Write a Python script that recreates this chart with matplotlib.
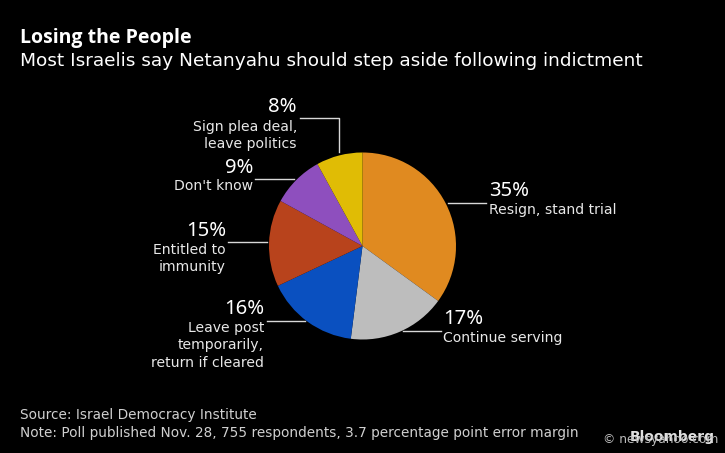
import matplotlib
matplotlib.use("Agg")
import matplotlib.pyplot as plt

# poll values
labels = ["Resign, stand trial", "Continue serving", "Leave post\ntemporarily,\nreturn if cleared",
          "Entitled to\nimmunity", "Don't know", "Sign plea deal,\nleave politics"]
values = [35, 17, 16, 15, 9, 8]
colors = ["#E08A20", "#BDBDBD", "#0A50C0", "#B8431C", "#8E4FBE", "#E0BC05"]

title = "Losing the People"
subtitle = "Most Israelis say Netanyahu should step aside following indictment"
source = "Source: Israel Democracy Institute"
note = "Note: Poll published Nov. 28, 755 respondents, 3.7 percentage point error margin"

plt.rcParams["font.family"] = ["DejaVu Sans"]
fig = plt.figure(figsize=(7.25, 4.53), dpi=100, facecolor="black")
ax = fig.add_axes([0, 0, 1, 1])

# y axis is flipped, so angles run clockwise from the top
ax.pie(values, colors=colors, startangle=-90, counterclock=True, center=(362.5, 246), radius=93.5,
       frame=True, wedgeprops=dict(linewidth=0))
ax.set_xlim(0, 725)
ax.set_ylim(453, 0)
ax.set_aspect("auto")
ax.axis("off")

fig.text(20 / 725, 1 - 35 / 453, title, color="white", fontsize=14, fontweight="bold", family="Open Sans", va="center_baseline")
fig.text(20 / 725, 1 - 59 / 453, subtitle, color="white", fontsize=13.3, va="center_baseline")
fig.text(20 / 725, 1 - 414 / 453, source, color="#D0D0D0", fontsize=9.85, va="center_baseline")
fig.text(20 / 725, 1 - 432 / 453, note, color="#D0D0D0", fontsize=9.85, va="center_baseline")

# leader lines
line_col = "#D8D8D8"
ax.plot([300, 339, 339], [118, 118, 152], color=line_col, lw=1)
ax.plot([255, 294], [179, 179], color=line_col, lw=1)
ax.plot([228, 267], [242, 242], color=line_col, lw=1)
ax.plot([267, 305], [321, 321], color=line_col, lw=1)
ax.plot([403, 441], [331, 331], color=line_col, lw=1)
ax.plot([448, 486], [203, 203], color=line_col, lw=1)

# percent + description, right or left aligned to the leader
pct_pos = [(489, 191, "left"), (443, 319, "left"), (264, 309, "right"),
           (226, 231, "right"), (253, 168, "right"), (297, 107, "right")]
lab_pos = [(489, 212, "left"), (443, 340, "left"), (264, 330, "right"),
           (226, 252, "right"), (253, 188, "right"), (297, 129, "right")]
for v, lab, p, q in zip(values, labels, pct_pos, lab_pos):
    ax.text(p[0], p[1], f"{v}%", color="white", fontsize=14.6, family="Noto Sans", ha=p[2], va="center")
    ax.text(q[0], q[1] - 9, lab, color="#E8E8E8", fontsize=10.05, ha=q[2], va="top", linespacing=1.3)

# overlapping credit and watermark
ax.text(630, 437, "Bloomberg", color="#E0E0E0", fontsize=10, fontweight="bold", va="center")
ax.text(603, 439, "© newsyahoo.com", color="#BBBBBB", fontsize=8.8, va="center")

fig.savefig("out.png", dpi=100, facecolor="black")
